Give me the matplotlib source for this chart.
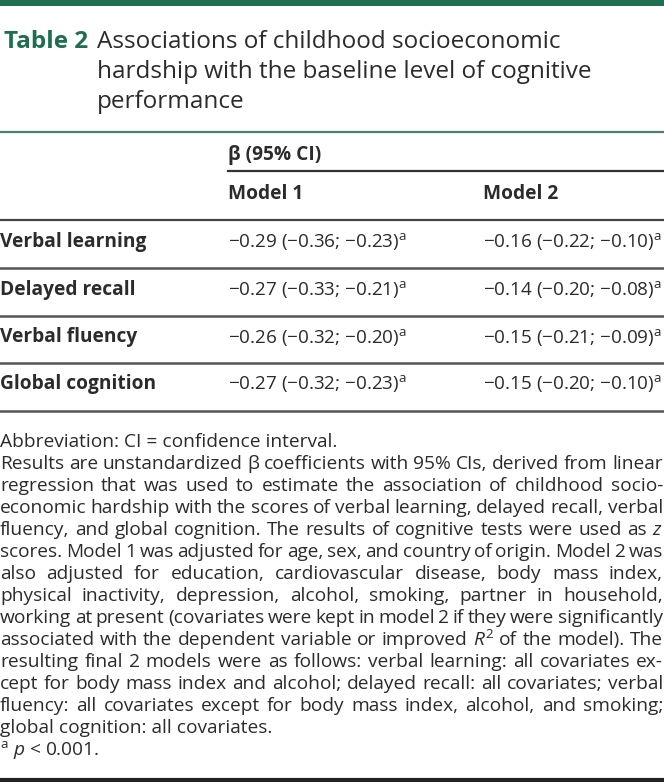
import matplotlib
matplotlib.use("Agg")
import matplotlib.pyplot as plt

plt.rcParams["font.family"] = ["Open Sans", "DejaVu Sans"]
plt.rcParams["mathtext.fontset"] = "custom"
plt.rcParams["mathtext.rm"] = "Open Sans"
plt.rcParams["mathtext.it"] = "Open Sans:italic"
plt.rcParams["mathtext.bf"] = "Open Sans:bold"

# table content
title_label = "Table 2"
title_lines = ["Associations of childhood socioeconomic",
               "hardship with the baseline level of cognitive",
               "performance"]
group_header = "β (95% CI)"
model_names = ["Model 1", "Model 2"]
outcomes = ["Verbal learning", "Delayed recall", "Verbal fluency", "Global cognition"]
model1 = ["−0.29 (−0.36; −0.23)", "−0.27 (−0.33; −0.21)",
          "−0.26 (−0.32; −0.20)", "−0.27 (−0.32; −0.23)"]
model2 = ["−0.16 (−0.22; −0.10)", "−0.14 (−0.20; −0.08)",
          "−0.15 (−0.21; −0.09)", "−0.15 (−0.20; −0.10)"]
sig_mark = "$^{\\mathrm{a}}$"

# footnote lines, flag = justified
notes = [
    ("Abbreviation: CI = confidence interval.", False),
    ("Results are unstandardized β coefficients with 95% CIs, derived from linear", True),
    ("regression that was used to estimate the association of childhood socio-", True),
    ("economic hardship with the scores of verbal learning, delayed recall, verbal", True),
    ("fluency, and global cognition. The results of cognitive tests were used as $z$", True),
    ("scores. Model 1 was adjusted for age, sex, and country of origin. Model 2 was", True),
    ("also adjusted for education, cardiovascular disease, body mass index,", True),
    ("physical inactivity, depression, alcohol, smoking, partner in household,", True),
    ("working at present (covariates were kept in model 2 if they were significantly", True),
    ("associated with the dependent variable or improved $R^2$ of the model). The", True),
    ("resulting final 2 models were as follows: verbal learning: all covariates ex-", True),
    ("cept for body mass index and alcohol; delayed recall: all covariates; verbal", True),
    ("fluency: all covariates except for body mass index, alcohol, and smoking;", True),
    ("global cognition: all covariates.", False),
    ("$^{\\mathrm{a}}$ $p$ < 0.001.", False),
]

W, H = 664, 782
green = "#1f6e50"
ink = "#2b2b2b"

fig = plt.figure(figsize=(W / 100, H / 100), dpi=100)
ax = fig.add_axes([0, 0, 1, 1])
ax.set_xlim(0, W)
ax.set_ylim(H, 0)
ax.axis("off")

# top bar and title
ax.fill_between([0, W], 0, 6, color=green, lw=0)
ax.text(4, 42, title_label, fontsize=17.5, fontweight="bold", color=green, va="center")
for i, line in enumerate(title_lines):
    ax.text(97, 42 + 30 * i, line, fontsize=17.5, color=ink, va="center")
ax.plot([0, W], [132, 132], color="#4f7f6c", lw=1.6)

# header
hs = 13.8
vs = 13.6
ax.text(228, 155, group_header, fontsize=hs, fontweight="bold", color=ink, va="center")
ax.plot([228, W], [171, 171], color="#333333", lw=1.6)
col_x = [228, 483]
for x, name in zip(col_x, model_names):
    ax.text(x, 194, name, fontsize=hs, fontweight="bold", color=ink, va="center")
ax.plot([0, W], [219.5, 219.5], color="#444444", lw=1.6)

# body rows
row_y = [242, 289.5, 337, 384]
line_y = [268, 316, 363, 411]
for i, name in enumerate(outcomes):
    y = row_y[i]
    ax.text(0, y, name, fontsize=hs, fontweight="bold", color=ink, va="center")
    ax.text(col_x[0], y, model1[i] + sig_mark, fontsize=vs, color=ink, va="center")
    ax.text(col_x[1], y, model2[i] + sig_mark, fontsize=vs, color=ink, va="center")
    ax.plot([0, W], [line_y[i], line_y[i]], color="#555555", lw=1.8)

# footnote with justified lines, shrinking a line if it does not fit
fig.canvas.draw()
renderer = fig.canvas.get_renderer()
note_size = 13.8
min_gap = 3.5
y0, step = 442, 22
for k, (line, just) in enumerate(notes):
    y = y0 + step * k
    if not just:
        ax.text(0, y, line, fontsize=note_size, color=ink, va="center")
        continue
    words = line.split(" ")
    texts = [ax.text(0, y, w, fontsize=note_size, color=ink, va="center") for w in words]
    widths = [t.get_window_extent(renderer).width for t in texts]
    room = W - 1 - min_gap * (len(words) - 1)
    if sum(widths) > room:
        f = room / sum(widths)
        for t in texts:
            t.set_fontsize(note_size * f)
        widths = [t.get_window_extent(renderer).width for t in texts]
    gap = (W - 1 - sum(widths)) / (len(words) - 1)
    x = 0
    for t, w in zip(texts, widths):
        t.set_x(x)
        x += w + gap

ax.plot([0, W], [779.5, 779.5], color="#222222", lw=3)

fig.savefig("out.png", dpi=100)
